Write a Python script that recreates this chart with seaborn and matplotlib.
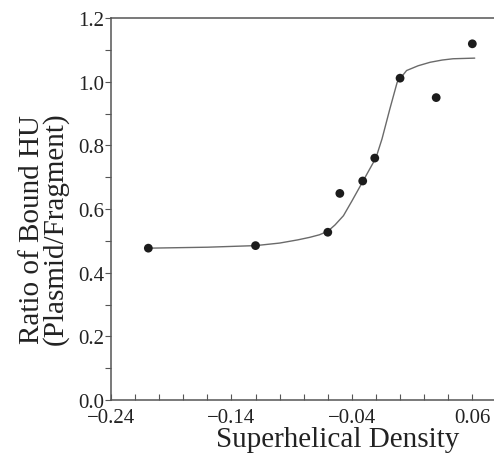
import matplotlib
matplotlib.use("Agg")
import matplotlib.pyplot as plt
from matplotlib.ticker import MultipleLocator, FixedLocator, FormatStrFormatter
import seaborn as sns
import pandas as pd

# -----------------------------
# DATA
# -----------------------------
density = [-0.209, -0.120, -0.060, -0.050, -0.031, -0.021, 0.000, 0.030, 0.060]
ratio = [0.477, 0.485, 0.527, 0.649, 0.688, 0.760, 1.011, 0.950, 1.119]

fit_density = [-0.209, -0.160, -0.120, -0.100, -0.085, -0.075, -0.067, -0.060,
               -0.054, -0.047, -0.040, -0.031, -0.020, -0.015, -0.0085,
               -0.0024, 0.0054, 0.015, 0.025, 0.035, 0.044, 0.062]
fit_ratio = [0.477, 0.480, 0.485, 0.493, 0.503, 0.511, 0.519, 0.530,
             0.550, 0.579, 0.625, 0.686, 0.761, 0.820, 0.914,
             0.998, 1.035, 1.050, 1.061, 1.068, 1.072, 1.074]

x_ticks = [-0.24, -0.14, -0.04, 0.06]
x_tick_labels = ["\u22120.24", "\u22120.14", "\u22120.04", "0.06"]

points = pd.DataFrame({"density": density, "ratio": ratio})
fit = pd.DataFrame({"density": fit_density, "ratio": fit_ratio})

# -----------------------------
# STYLE
# -----------------------------
sns.set_style("ticks")
plt.rcParams["font.family"] = ["Liberation Serif", "DejaVu Serif"]

fig = plt.figure(figsize=(4.94, 4.56), dpi=100)
ax = fig.add_axes([0.2247, 0.1206, 0.7753, 0.8377])

sns.lineplot(data=fit, x="density", y="ratio", ax=ax, color="#6a6a6a",
             linewidth=1.0, sort=False)
sns.scatterplot(data=points, x="density", y="ratio", ax=ax, color="#1c1c1c",
                s=40, edgecolor="none", zorder=3)

# -----------------------------
# AXES
# -----------------------------
ax.set_xlim(-0.24, 0.078)
ax.set_ylim(0.0, 1.2)

ax.xaxis.set_major_locator(FixedLocator(x_ticks))
ax.set_xticklabels(x_tick_labels)
ax.xaxis.set_minor_locator(MultipleLocator(0.02))
ax.yaxis.set_major_locator(MultipleLocator(0.2))
ax.yaxis.set_minor_locator(MultipleLocator(0.1))
ax.yaxis.set_major_formatter(FormatStrFormatter("%.1f"))

ax.tick_params(axis="x", which="both", direction="in", length=4, width=0.8,
               colors="#555555", labelcolor="#222222", labelsize=15, pad=6)
ax.tick_params(axis="y", which="both", direction="out", length=4, width=0.8,
               colors="#555555", labelcolor="#222222", labelsize=15, pad=1)

for side in ["left", "bottom", "top"]:
    ax.spines[side].set_color("#555555")
    ax.spines[side].set_linewidth(1.1)
ax.spines["right"].set_visible(False)

ax.set_xlabel("Superhelical Density", fontsize=21, color="#222222")
ax.xaxis.set_label_coords(0.593, -0.068)
ax.set_ylabel("Ratio of Bound HU\n(Plasmid/Fragment)", fontsize=21,
              color="#222222", linespacing=0.85)
ax.yaxis.set_label_coords(-0.11, 0.45)

plt.savefig("out.png", dpi=100)
